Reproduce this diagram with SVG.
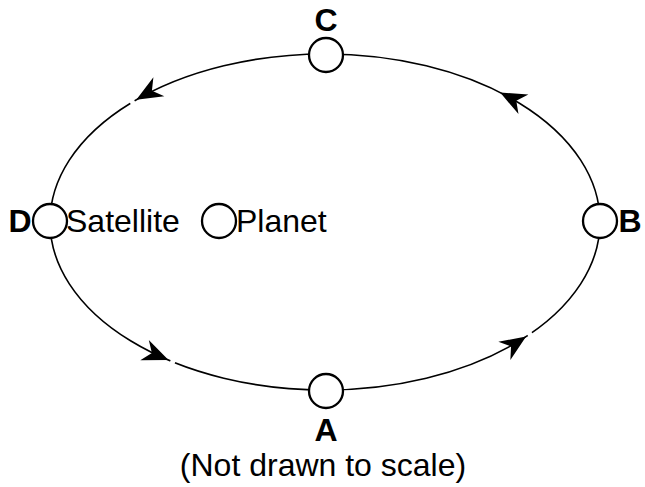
<svg xmlns="http://www.w3.org/2000/svg" xmlns:xlink="http://www.w3.org/1999/xlink" width="645" height="487" viewBox="0 0 645 487">
<style>
.orbit{fill:none;stroke:#000;stroke-width:1.6}
.body{fill:#fff;stroke:#000;stroke-width:2.3}
.lbl{font-family:"Liberation Sans",Arial,sans-serif;font-weight:bold;font-size:32px;fill:#000}
.txt{font-family:"Liberation Sans",Arial,sans-serif;font-size:32px;fill:#000}
.gap{stroke:#fff;stroke-width:4}
</style>
<defs>
<path id="ah" d="M0,0 L-26,-11 L-18,0 L-26,11 Z" fill="#000"/>
<line id="gp" class="gap" x1="2" y1="0" x2="7" y2="0"/>
</defs>
<rect width="645" height="487" fill="#fff"/>
<g id="connectors">
<ellipse class="orbit" cx="325" cy="222" rx="275" ry="168"/>
<use xlink:href="#gp" transform="translate(136.3,99.7) rotate(150.2)"/>
<use xlink:href="#ah" transform="translate(136.3,99.7) rotate(150.2)"/>
<use xlink:href="#ah" transform="translate(500.2,92.6) rotate(-153.3)"/>
<use xlink:href="#gp" transform="translate(168.5,360.1) rotate(22.8)"/>
<use xlink:href="#ah" transform="translate(168.5,360.1) rotate(22.8)"/>
<use xlink:href="#gp" transform="translate(526.1,336.6) rotate(-33.2)"/>
<use xlink:href="#ah" transform="translate(526.1,336.6) rotate(-33.2)"/>
</g>
<g id="nodeC">
<circle class="body" cx="326" cy="55" r="17"/>
<text class="lbl" x="326" y="31" text-anchor="middle">C</text>
</g>
<g id="nodeA">
<circle class="body" cx="326" cy="391" r="17"/>
<text class="lbl" x="326" y="441" text-anchor="middle">A</text>
</g>
<g id="nodeD">
<circle class="body" cx="50" cy="221" r="17"/>
<text class="lbl" x="20" y="232" text-anchor="middle">D</text>
<text class="txt" x="66" y="232">Satellite</text>
</g>
<g id="nodeB">
<circle class="body" cx="600" cy="221" r="17"/>
<text class="lbl" x="630" y="232" text-anchor="middle">B</text>
</g>
<g id="planet">
<circle class="body" cx="219" cy="221" r="17"/>
<text class="txt" x="236" y="232">Planet</text>
</g>
<text class="txt" x="323" y="476" text-anchor="middle">(Not drawn to scale)</text>
</svg>
